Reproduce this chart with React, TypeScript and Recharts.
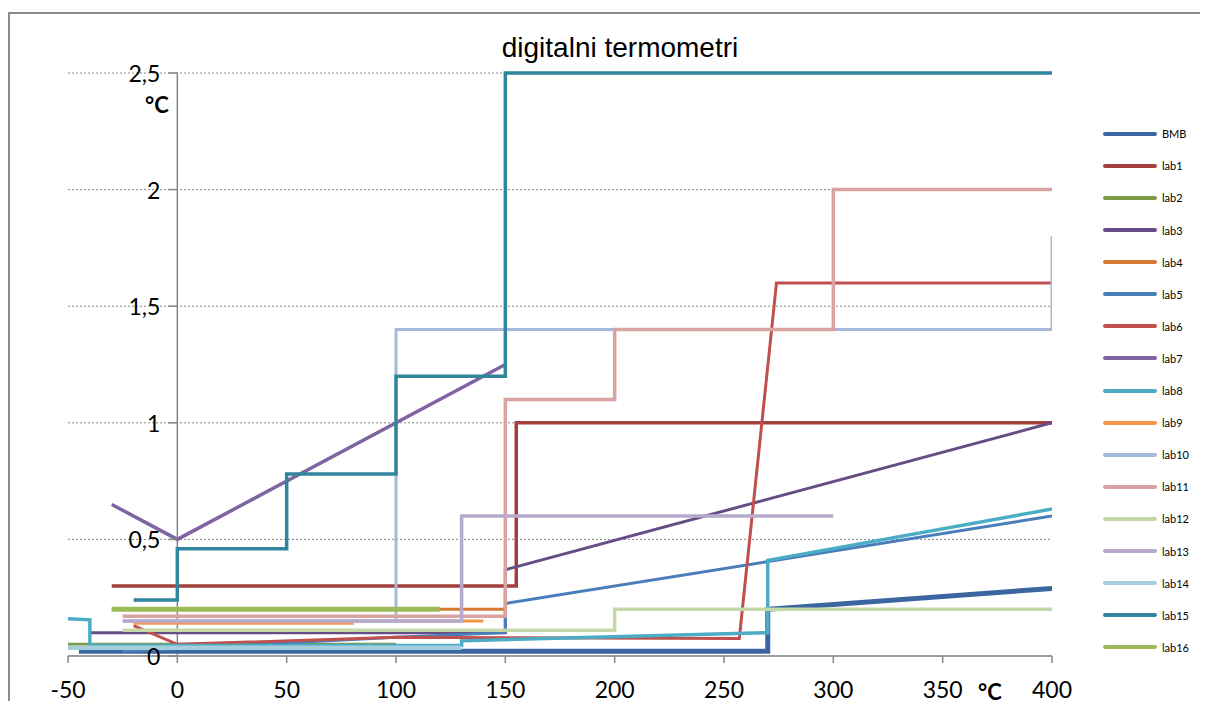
import React from "react";
import {
  LineChart,
  Line,
  XAxis,
  YAxis,
  CartesianGrid,
  ReferenceLine,
} from "recharts";

// axis setup
const X_MIN = -50;
const X_MAX = 400;
const xTicks = [-50, 0, 50, 100, 150, 200, 250, 300, 350, 400];
const yTicks = [0, 0.5, 1, 1.5, 2, 2.5];
const yTickLabels = ["0", "0,5", "1", "1,5", "2", "2,5"];

// series as [temperature, error] pairs
const bmb = [[-45, 0.02], [270, 0.02], [270, 0.2], [400, 0.29]];
const lab1 = [[-30, 0.3], [155, 0.3], [155, 1], [400, 1]];
const lab2 = [[-50, 0.05], [100, 0.05]];
const lab3 = [[-40, 0.1], [150, 0.1], [150, 0.37], [400, 1]];
const lab4 = [[-30, 0.2], [150, 0.2]];
const lab5 = [[-25, 0.02], [100, 0.08], [150, 0.1], [150, 0.225], [400, 0.6]];
const lab6 = [[-20, 0.13], [0, 0.05], [100, 0.08], [257, 0.075], [274, 1.6], [400, 1.6]];
const lab7 = [[-30, 0.65], [0, 0.5], [150, 1.25]];
const lab8 = [[-50, 0.16], [-40, 0.155], [-40, 0.045], [130, 0.045], [130, 0.065], [270, 0.1], [270, 0.41], [400, 0.63]];
const lab9 = [[-20, 0.14], [80, 0.14], [80, 0.15], [140, 0.15]];
const lab10 = [[-25, 0.15], [100, 0.15], [100, 1.4], [400, 1.4], [400, 1.8]];
const lab11 = [[-25, 0.17], [150, 0.17], [150, 1.1], [200, 1.1], [200, 1.4], [300, 1.4], [300, 2], [400, 2]];
const lab12 = [[-25, 0.11], [200, 0.11], [200, 0.2], [400, 0.2]];
const lab13 = [[-25, 0.15], [130, 0.15], [130, 0.6], [300, 0.6]];
const lab14 = [[-50, 0.035], [130, 0.035]];
const lab15 = [[-20, 0.24], [0, 0.24], [0, 0.46], [50, 0.46], [50, 0.78], [100, 0.78], [100, 1.2], [150, 1.2], [150, 2.5], [400, 2.5]];
const lab16 = [[-30, 0.2], [120, 0.2]];

const seriesNames = ["BMB", "lab1", "lab2", "lab3", "lab4", "lab5", "lab6", "lab7", "lab8", "lab9", "lab10", "lab11", "lab12", "lab13", "lab14", "lab15", "lab16"];
const seriesData = [bmb, lab1, lab2, lab3, lab4, lab5, lab6, lab7, lab8, lab9, lab10, lab11, lab12, lab13, lab14, lab15, lab16];
const seriesColors = ["#3C66A0", "#A33F3C", "#7E9B45", "#674D86", "#D57B33", "#4A7EBB", "#C0504D", "#8064A2", "#4BACC6", "#F79646", "#A7B9DB", "#D9A3A1", "#C6D8A7", "#B7A9CB", "#A6CEDD", "#31859C", "#9BBB59"];
const seriesWidths = [5, 3.5, 3, 3, 3, 3, 3, 3.5, 3.5, 3, 3, 3.5, 3.5, 3.5, 4.5, 3.5, 5];

const CHART_W = 1180;
const CHART_H = 697;
const Y_AXIS_W = 60;
const MARGIN = { top: 61, right: 136, bottom: 13, left: 0 };
const PLOT_W = CHART_W - Y_AXIS_W - MARGIN.left - MARGIN.right;
const ZERO_X = Y_AXIS_W + ((0 - X_MIN) / (X_MAX - X_MIN)) * PLOT_W;

const AXIS_GREY = "#868686";
const FRAME_GREY = "#8a8a8a";
const TICK_FONT = "Lato, 'Open Sans', sans-serif";

function YTick(props: any) {
  const { y, payload } = props;
  const label = yTickLabels[yTicks.indexOf(payload.value)];
  return (
    <g>
      <line x1={ZERO_X - 9} x2={ZERO_X} y1={y} y2={y} stroke={AXIS_GREY} strokeWidth={1.5} />
      <text
        x={ZERO_X - 17}
        y={y}
        textAnchor="end"
        dominantBaseline="central"
        fontSize={23}
        fontFamily={TICK_FONT}
        fill="#000"
      >
        {label}
      </text>
    </g>
  );
}

export default function App() {
  return (
    <div style={{ position: "relative", width: 1192, height: 693 }}>
      <style>
        {"html,body{overflow:hidden;} .recharts-wrapper,.recharts-surface,svg,*:focus{outline:none !important;}"}
      </style>
      <svg
        width={1208}
        height={12}
        style={{ position: "absolute", left: -8, top: -8 }}
      >
        <text x={45} y={-1} fontSize={32} fontWeight={700} fontFamily="'Open Sans', sans-serif" fill="#365F91">
          g
        </text>
        <text x={380} y={-1} fontSize={32} fontWeight={700} fontFamily="'Open Sans', sans-serif" fill="#365F91">
          (
        </text>
      </svg>
      {/* chart frame: only its top and left edges fall inside the picture */}
      <div style={{ position: "absolute", left: 0, top: 4, width: 1200, height: 1.5, background: FRAME_GREY }} />
      <div style={{ position: "absolute", left: 0, top: 4, width: 1.5, height: 689, background: FRAME_GREY }} />
      <div
        style={{
          position: "absolute",
          left: 612,
          top: 26,
          transform: "translateX(-50%)",
          fontFamily: "'Liberation Sans', Arial, sans-serif",
          fontSize: 28,
          lineHeight: "28px",
          whiteSpace: "nowrap",
          color: "#000",
        }}
      >
        digitalni termometri
      </div>
      <div style={{ position: "absolute", top: 4, left: 0 }}>
        <LineChart
          width={CHART_W}
          height={CHART_H}
          margin={MARGIN}
          accessibilityLayer={false}
          style={{ outline: "none" }}
        >
          <CartesianGrid
            vertical={false}
            stroke={AXIS_GREY}
            strokeDasharray="2 2"
          />
          <XAxis
            dataKey="x"
            type="number"
            domain={[X_MIN, X_MAX]}
            ticks={xTicks}
            allowDataOverflow
            height={40}
            stroke={AXIS_GREY}
            axisLine={{ stroke: AXIS_GREY, strokeWidth: 1.5 }}
            tickLine={{ stroke: AXIS_GREY, strokeWidth: 1.5 }}
            tickSize={7}
            tickMargin={19}
            tick={{ fill: "#000", fontSize: 23, fontFamily: TICK_FONT }}
          />
          <YAxis
            type="number"
            domain={[0, 2.5]}
            ticks={yTicks}
            width={Y_AXIS_W}
            axisLine={false}
            tickLine={false}
            tick={<YTick />}
          />
          <ReferenceLine x={0} stroke={AXIS_GREY} strokeWidth={1.5} />
          {seriesData.map((pts, i) => (
            <Line
              key={seriesNames[i]}
              name={seriesNames[i]}
              data={pts.map(([x, y]) => ({ x, y }))}
              dataKey="y"
              type="linear"
              stroke={seriesColors[i]}
              strokeWidth={seriesWidths[i]}
              dot={false}
              activeDot={false}
              isAnimationActive={false}
            />
          ))}
        </LineChart>
      </div>
      <div
        style={{
          position: "absolute",
          left: 137,
          top: 86,
          fontSize: 22,
          lineHeight: "22px",
          fontWeight: 700,
          fontFamily: TICK_FONT,
        }}
      >
        °C
      </div>
      <div
        style={{
          position: "absolute",
          left: 970,
          top: 673,
          fontSize: 22,
          lineHeight: "22px",
          fontWeight: 700,
          fontFamily: TICK_FONT,
        }}
      >
        °C
      </div>
      {seriesNames.map((name, i) => (
        <div
          key={name}
          style={{
            position: "absolute",
            left: 1095,
            top: 125.7 + i * 32.1 - 8,
            height: 16,
            display: "flex",
            alignItems: "center",
            fontFamily: TICK_FONT,
          }}
        >
          <span
            style={{
              display: "inline-block",
              width: 54,
              height: 4,
              borderRadius: 2,
              background: seriesColors[i],
            }}
          />
          <span style={{ marginLeft: 5, fontSize: 11, color: "#000" }}>{name}</span>
        </div>
      ))}
    </div>
  );
}
